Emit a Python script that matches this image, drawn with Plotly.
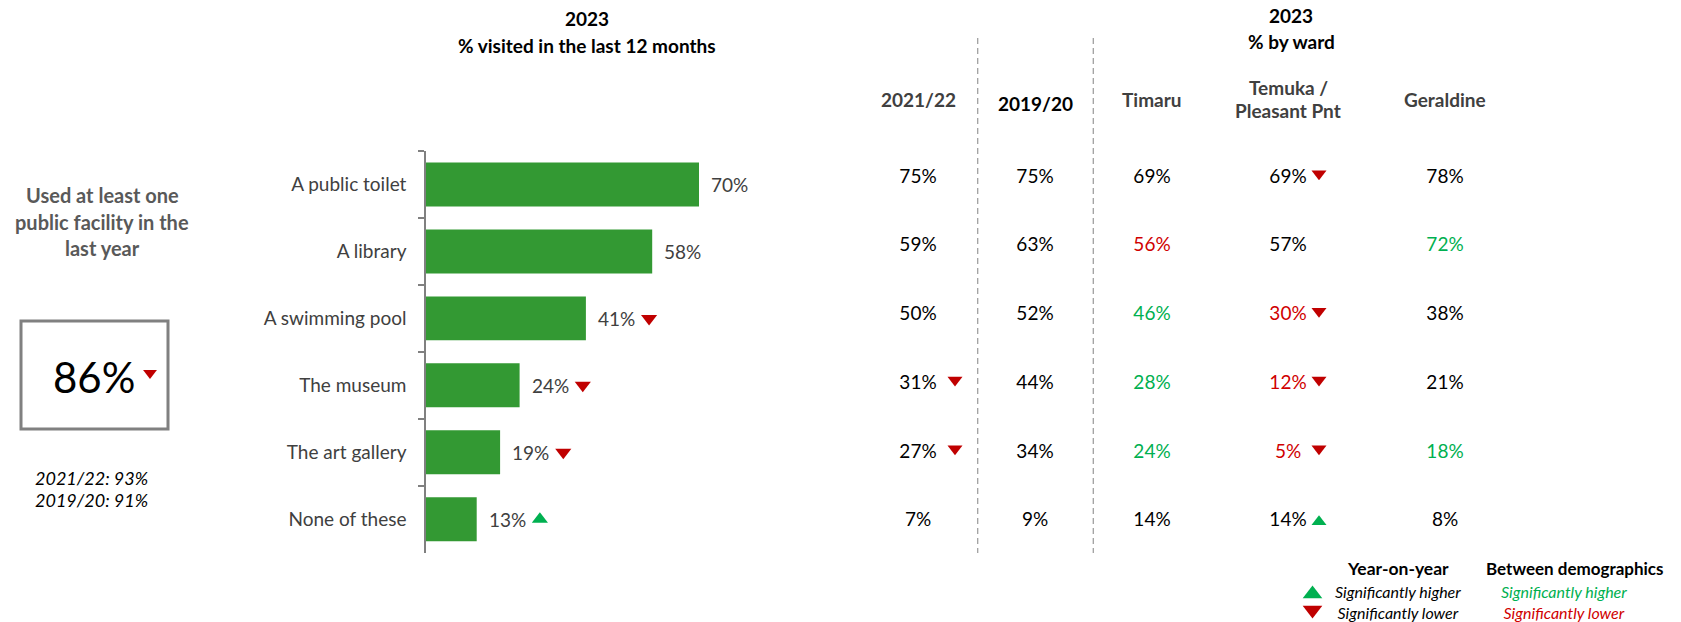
import plotly.graph_objects as go

# ---- data -------------------------------------------------------------
FACILITIES = ["A public toilet", "A library", "A swimming pool",
              "The museum", "The art gallery", "None of these"]
VISITED_2023 = [70, 58, 41, 24, 19, 13]
TREND_2023 = ["", "", "down", "down", "down", "up"]

COLUMNS = ["2021/22", "2019/20", "Timaru", "Temuka /<br>Pleasant Pnt", "Geraldine"]
YEAR_2021_22 = [75, 59, 50, 31, 27, 7]
TREND_2021_22 = ["", "", "", "down", "down", ""]
YEAR_2019_20 = [75, 63, 52, 44, 34, 9]
TIMARU = [69, 56, 46, 28, 24, 14]
TIMARU_DIFF = ["", "low", "high", "high", "high", ""]
TEMUKA = [69, 57, 30, 12, 5, 14]
TEMUKA_DIFF = ["", "", "low", "low", "low", ""]
TEMUKA_TREND = ["down", "", "down", "down", "down", "up"]
GERALDINE = [78, 72, 38, 21, 18, 8]
GERALDINE_DIFF = ["", "high", "", "", "high", ""]

ANY_FACILITY_2023 = 86
ANY_FACILITY_TREND = "down"
ANY_FACILITY_PRIOR = [("2021/22", 93), ("2019/20", 91)]

# ---- style ------------------------------------------------------------
W, H = 1681, 622
FONT = "Lato"
BAR_GREEN = "#339933"
UP_GREEN = "#00B050"
DOWN_RED = "#C00000"
TEXT_RED = "#D00000"
GREY_TEXT = "#404040"
DIFF_COLOR = {"": "#000000", "high": UP_GREEN, "low": TEXT_RED}
TREND_SYMBOL = {"up": "triangle-up", "down": "triangle-down"}
TREND_COLOR = {"up": UP_GREEN, "down": DOWN_RED}

COL_X = [918, 1035, 1152, 1288, 1445]          # column centres (px)
COL_ARROW_DX = [37, 0, 0, 31, 0]               # arrow offset from centre (px)
BAR_ARROW_GAP = 16.2                           # arrow offset after bar end (% units)


def px(x):
    return x / W


def py(y):
    return 1 - y / H


fig = go.Figure()

# ---- bar chart --------------------------------------------------------
fig.add_trace(go.Bar(
    x=VISITED_2023, y=FACILITIES, orientation="h",
    marker=dict(color=BAR_GREEN, line=dict(width=0)),
    xaxis="x", yaxis="y", hoverinfo="skip",
))

annotations = []
for cat, v in zip(FACILITIES, VISITED_2023):
    annotations.append(dict(
        x=v, y=cat, xref="x", yref="y", text=f"{v}%", showarrow=False,
        xanchor="left", yanchor="middle", xshift=10,
        font=dict(family=FONT, size=19, color=GREY_TEXT),
    ))

for trend in ("up", "down"):
    xs = [v + BAR_ARROW_GAP for v, t in zip(VISITED_2023, TREND_2023) if t == trend]
    ys = [c for c, t in zip(FACILITIES, TREND_2023) if t == trend]
    fig.add_trace(go.Scatter(
        x=xs, y=ys, mode="markers", xaxis="x", yaxis="y", hoverinfo="skip",
        marker=dict(symbol=TREND_SYMBOL[trend], size=14,
                    color=TREND_COLOR[trend], line=dict(width=0)),
    ))

# ---- comparison table ---------------------------------------------------
table_cols = [
    (YEAR_2021_22, [""] * 6, TREND_2021_22),
    (YEAR_2019_20, [""] * 6, [""] * 6),
    (TIMARU, TIMARU_DIFF, [""] * 6),
    (TEMUKA, TEMUKA_DIFF, TEMUKA_TREND),
    (GERALDINE, GERALDINE_DIFF, [""] * 6),
]
rows = list(range(len(FACILITIES)))
for j, (vals, diffs, trends) in enumerate(table_cols):
    fig.add_trace(go.Scatter(
        x=[COL_X[j]] * len(vals), y=rows, mode="text",
        text=[f"{v}%" for v in vals], textposition="middle center",
        textfont=dict(family=FONT, size=19, color=[DIFF_COLOR[d] for d in diffs]),
        xaxis="x2", yaxis="y2", hoverinfo="skip",
    ))
    for trend in ("up", "down"):
        ys = [i - (0.06 if trend == "down" else 0.0)
              for i, t in zip(rows, trends) if t == trend]
        if not ys:
            continue
        fig.add_trace(go.Scatter(
            x=[COL_X[j] + COL_ARROW_DX[j]] * len(ys), y=ys, mode="markers",
            xaxis="x2", yaxis="y2", hoverinfo="skip",
            marker=dict(symbol=TREND_SYMBOL[trend], size=13,
                        color=TREND_COLOR[trend], line=dict(width=0)),
        ))

# ---- headline figure and key glyphs (canvas coordinates) ----------------
fig.add_trace(go.Scatter(
    x=[150], y=[373], mode="markers", xaxis="x3", yaxis="y3", hoverinfo="skip",
    marker=dict(symbol=TREND_SYMBOL[ANY_FACILITY_TREND], size=12,
                color=TREND_COLOR[ANY_FACILITY_TREND], line=dict(width=0)),
))
fig.add_trace(go.Scatter(
    x=[1312.5, 1312.5], y=[594, 610], mode="markers", xaxis="x3", yaxis="y3",
    hoverinfo="skip",
    marker=dict(symbol=["triangle-up", "triangle-down"], size=17,
                color=[UP_GREEN, DOWN_RED], line=dict(width=0)),
))


def label(text, x, y, size, color="#000000", xanchor="center", bold=False, italic=False):
    if bold:
        text = f"<b>{text}</b>"
    if italic:
        text = f"<i>{text}</i>"
    annotations.append(dict(
        x=px(x), y=py(y), xref="paper", yref="paper", text=text, showarrow=False,
        xanchor=xanchor, yanchor="middle",
        font=dict(family=FONT, size=size, color=color),
    ))


# titles
label("2023", 587, 18, 19, bold=True)
label("% visited in the last 12 months", 587, 45, 19, bold=True)
label("2023", 1291, 16, 19, bold=True)
label("% by ward", 1291, 41, 19, bold=True)

# column headers
label(COLUMNS[0], COL_X[0], 100, 19, GREY_TEXT, bold=True)
label(COLUMNS[1], COL_X[1], 103, 19, "#000000", bold=True)
label(COLUMNS[2], COL_X[2], 100, 19, GREY_TEXT, bold=True)
for k, line in enumerate(COLUMNS[3].split("<br>")):
    label(line, COL_X[3], 87 + 23 * k, 19, GREY_TEXT, bold=True)
label(COLUMNS[4], COL_X[4], 100, 19, GREY_TEXT, bold=True)

# headline panel
for k, line in enumerate(["Used at least one", "public facility in the", "last year"]):
    label(line, 102, 195 + 26.5 * k, 20, "#595959", bold=True)
label(f"{ANY_FACILITY_2023}%", 94, 377, 42)
for k, (yr, v) in enumerate(ANY_FACILITY_PRIOR):
    label(f"{yr}: {v}%", 91, 478 + 22 * k, 18, italic=True)

# key
label("Year-on-year", 1398, 568, 17.5, bold=True)
label("Between demographics", 1575, 568, 17, bold=True)
label("Significantly higher<br>Significantly lower", 1333, 601.5, 16,
      xanchor="left", italic=True)
label(f"<span style='color:{UP_GREEN}'>Significantly higher</span><br>"
      f"<span style='color:{TEXT_RED}'>Significantly lower</span>",
      1499, 601.5, 16, xanchor="left", italic=True)

shapes = [
    dict(type="rect", xref="paper", yref="paper",
         x0=px(21), x1=px(168), y0=py(429), y1=py(321),
         line=dict(color="#808080", width=3)),
]
for xd in (977.7, 1093.3):
    shapes.append(dict(type="line", xref="paper", yref="paper",
                       x0=px(xd), x1=px(xd), y0=py(38), y1=py(553),
                       line=dict(color="#A0A0A0", width=1.3, dash="6px,4px")))

BAR_TOP, BAR_BOTTOM = 151, 552.7
TABLE_TOP, TABLE_BOTTOM = 143.6, 556.0

fig.update_layout(
    width=W, height=H, autosize=False,
    margin=dict(l=0, r=0, t=0, b=0, pad=0),
    paper_bgcolor="white", plot_bgcolor="rgba(0,0,0,0)",
    showlegend=False, bargap=0.343,
    font=dict(family=FONT),
    xaxis=dict(domain=[px(426), px(426 + 3.9 * 100)], range=[0, 100],
               visible=False, fixedrange=True),
    yaxis=dict(domain=[py(BAR_BOTTOM), py(BAR_TOP)], type="category",
               categoryorder="array", categoryarray=FACILITIES,
               autorange="reversed", anchor="x",
               showline=True, linecolor="#808080", linewidth=1.5,
               ticks="outside", ticklen=6, tickcolor="#808080", tickwidth=1.5,
               tickson="boundaries", showgrid=False, zeroline=False,
               ticklabelstandoff=14,
               tickfont=dict(family=FONT, size=19, color=GREY_TEXT),
               fixedrange=True),
    xaxis2=dict(domain=[0, 1], range=[0, W], visible=False, anchor="y2",
                fixedrange=True),
    yaxis2=dict(domain=[py(TABLE_BOTTOM), py(TABLE_TOP)], range=[5.5, -0.5],
                visible=False, anchor="x2", fixedrange=True),
    xaxis3=dict(domain=[0, 1], range=[0, W], visible=False, anchor="y3",
                fixedrange=True),
    yaxis3=dict(domain=[0, 1], range=[H, 0], visible=False, anchor="x3",
                fixedrange=True),
    annotations=annotations,
    shapes=shapes,
)

fig.write_html("out.html", config={"displayModeBar": False})
